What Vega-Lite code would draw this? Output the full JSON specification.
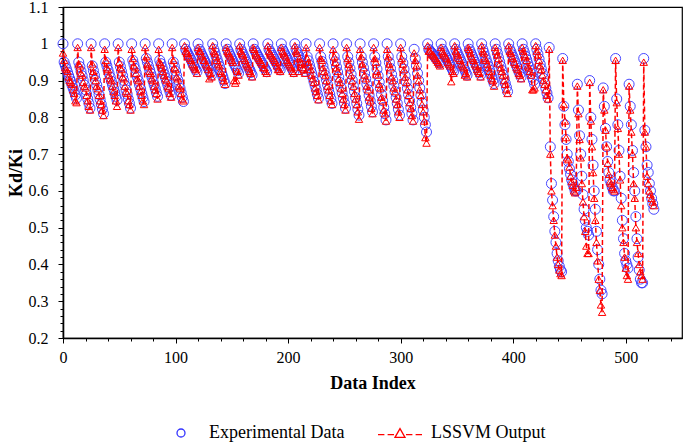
{
"$schema": "https://vega.github.io/schema/vega-lite/v6.json",
"width": 619, "height": 331,
"autosize": {"type": "none"},
"padding": {"left": 63, "top": 7, "right": 3, "bottom": 107},
"config": {"font": "Times New Roman, Liberation Serif, serif", "view": {"stroke": "black", "strokeWidth": 1.2}, "axis": {"grid": false}},
"data": {"values": [
{"i":0,"e":1,"l":0.975},{"i":1,"e":0.95,"l":0.955},{"i":2,"e":0.941,"l":0.935},{"i":3,"e":0.932,"l":0.93},{"i":4,"e":0.923,"l":0.925},{"i":5,"e":0.914,"l":0.91},{"i":6,"e":0.905,"l":0.9},{"i":7,"e":0.897,"l":0.895},{"i":8,"e":0.888,"l":0.89},{"i":9,"e":0.879,"l":0.875},{"i":10,"e":0.87,"l":0.865},{"i":11,"e":0.861,"l":0.845},{"i":12,"e":0.852,"l":0.84},
{"i":13,"e":1,"l":0.99},{"i":14,"e":0.95,"l":0.945},{"i":15,"e":0.938,"l":0.94},{"i":16,"e":0.925,"l":0.92},{"i":17,"e":0.913,"l":0.915},{"i":18,"e":0.9,"l":0.895},{"i":19,"e":0.888,"l":0.885},{"i":20,"e":0.875,"l":0.88},{"i":21,"e":0.863,"l":0.86},{"i":22,"e":0.85,"l":0.845},{"i":23,"e":0.838,"l":0.83},{"i":24,"e":0.825,"l":0.82},
{"i":25,"e":1,"l":0.99},{"i":26,"e":0.94,"l":0.945},{"i":27,"e":0.927,"l":0.925},{"i":28,"e":0.914,"l":0.915},{"i":29,"e":0.901,"l":0.9},{"i":30,"e":0.888,"l":0.885},{"i":31,"e":0.875,"l":0.878},{"i":32,"e":0.862,"l":0.86},{"i":33,"e":0.849,"l":0.845},{"i":34,"e":0.836,"l":0.835},{"i":35,"e":0.823,"l":0.82},{"i":36,"e":0.81,"l":0.805},
{"i":37,"e":1,"l":0.985},{"i":38,"e":0.95,"l":0.955},{"i":39,"e":0.94,"l":0.935},{"i":40,"e":0.929,"l":0.93},{"i":41,"e":0.919,"l":0.915},{"i":42,"e":0.909,"l":0.905},{"i":43,"e":0.898,"l":0.9},{"i":44,"e":0.888,"l":0.885},{"i":45,"e":0.878,"l":0.87},{"i":46,"e":0.868,"l":0.86},{"i":47,"e":0.857,"l":0.845},{"i":48,"e":0.847,"l":0.83},
{"i":49,"e":1,"l":0.99},{"i":50,"e":0.95,"l":0.95},{"i":51,"e":0.938,"l":0.935},{"i":52,"e":0.925,"l":0.93},{"i":53,"e":0.913,"l":0.91},{"i":54,"e":0.9,"l":0.905},{"i":55,"e":0.888,"l":0.885},{"i":56,"e":0.875,"l":0.87},{"i":57,"e":0.863,"l":0.865},{"i":58,"e":0.85,"l":0.845},{"i":59,"e":0.838,"l":0.835},{"i":60,"e":0.825,"l":0.82},
{"i":61,"e":1,"l":0.985},{"i":62,"e":0.955,"l":0.96},{"i":63,"e":0.944,"l":0.94},{"i":64,"e":0.933,"l":0.935},{"i":65,"e":0.921,"l":0.92},{"i":66,"e":0.91,"l":0.905},{"i":67,"e":0.899,"l":0.9},{"i":68,"e":0.888,"l":0.885},{"i":69,"e":0.877,"l":0.87},{"i":70,"e":0.865,"l":0.86},{"i":71,"e":0.854,"l":0.845},{"i":72,"e":0.843,"l":0.835},
{"i":73,"e":1,"l":0.99},{"i":74,"e":0.96,"l":0.965},{"i":75,"e":0.95,"l":0.945},{"i":76,"e":0.939,"l":0.94},{"i":77,"e":0.929,"l":0.925},{"i":78,"e":0.919,"l":0.92},{"i":79,"e":0.909,"l":0.905},{"i":80,"e":0.898,"l":0.9},{"i":81,"e":0.888,"l":0.885},{"i":82,"e":0.878,"l":0.875},{"i":83,"e":0.867,"l":0.865},{"i":84,"e":0.857,"l":0.85},
{"i":85,"e":1,"l":0.985},{"i":86,"e":0.955,"l":0.95},{"i":87,"e":0.946,"l":0.945},{"i":88,"e":0.936,"l":0.935},{"i":89,"e":0.927,"l":0.925},{"i":90,"e":0.917,"l":0.915},{"i":91,"e":0.908,"l":0.905},{"i":92,"e":0.898,"l":0.9},{"i":93,"e":0.889,"l":0.885},{"i":94,"e":0.879,"l":0.88},{"i":95,"e":0.87,"l":0.865},{"i":96,"e":0.86,"l":0.855},
{"i":97,"e":1,"l":0.99},{"i":98,"e":0.95,"l":0.955},{"i":99,"e":0.938,"l":0.935},{"i":100,"e":0.926,"l":0.93},{"i":101,"e":0.914,"l":0.91},{"i":102,"e":0.902,"l":0.905},{"i":103,"e":0.891,"l":0.885},{"i":104,"e":0.879,"l":0.88},{"i":105,"e":0.867,"l":0.865},{"i":106,"e":0.855,"l":0.85},{"i":107,"e":0.843,"l":0.845},
{"i":108,"e":1,"l":0.995},{"i":109,"e":0.985,"l":0.98},{"i":110,"e":0.979,"l":0.975},{"i":111,"e":0.973,"l":0.975},{"i":112,"e":0.967,"l":0.965},{"i":113,"e":0.961,"l":0.96},{"i":114,"e":0.955,"l":0.955},{"i":115,"e":0.948,"l":0.945},{"i":116,"e":0.942,"l":0.94},{"i":117,"e":0.936,"l":0.935},{"i":118,"e":0.93,"l":0.93},{"i":119,"e":0.924,"l":0.92},
{"i":120,"e":1,"l":0.99},{"i":121,"e":0.985,"l":0.98},{"i":122,"e":0.979,"l":0.98},{"i":123,"e":0.972,"l":0.97},{"i":124,"e":0.966,"l":0.965},{"i":125,"e":0.96,"l":0.955},{"i":126,"e":0.953,"l":0.955},{"i":127,"e":0.947,"l":0.945},{"i":128,"e":0.94,"l":0.94},{"i":129,"e":0.934,"l":0.93},{"i":130,"e":0.928,"l":0.905},{"i":131,"e":0.921,"l":0.92},{"i":132,"e":0.915,"l":0.91},
{"i":133,"e":1,"l":0.995},{"i":134,"e":0.985,"l":0.98},{"i":135,"e":0.976,"l":0.975},{"i":136,"e":0.966,"l":0.965},{"i":137,"e":0.957,"l":0.955},{"i":138,"e":0.948,"l":0.945},{"i":139,"e":0.939,"l":0.94},{"i":140,"e":0.929,"l":0.925},{"i":141,"e":0.92,"l":0.92},{"i":142,"e":0.911,"l":0.91},{"i":143,"e":0.901,"l":0.9},{"i":144,"e":0.892,"l":0.89},
{"i":145,"e":1,"l":0.99},{"i":146,"e":0.985,"l":0.98},{"i":147,"e":0.979,"l":0.975},{"i":148,"e":0.972,"l":0.97},{"i":149,"e":0.966,"l":0.965},{"i":150,"e":0.959,"l":0.955},{"i":151,"e":0.953,"l":0.95},{"i":152,"e":0.946,"l":0.9},{"i":153,"e":0.94,"l":0.893},{"i":154,"e":0.933,"l":0.9},{"i":155,"e":0.927,"l":0.925},{"i":156,"e":0.92,"l":0.915},
{"i":157,"e":1,"l":0.995},{"i":158,"e":0.985,"l":0.98},{"i":159,"e":0.978,"l":0.975},{"i":160,"e":0.971,"l":0.97},{"i":161,"e":0.964,"l":0.96},{"i":162,"e":0.957,"l":0.955},{"i":163,"e":0.95,"l":0.945},{"i":164,"e":0.943,"l":0.94},{"i":165,"e":0.936,"l":0.935},{"i":166,"e":0.929,"l":0.925},{"i":167,"e":0.922,"l":0.92},{"i":168,"e":0.915,"l":0.91},
{"i":169,"e":1,"l":0.99},{"i":170,"e":0.985,"l":0.985},{"i":171,"e":0.979,"l":0.975},{"i":172,"e":0.974,"l":0.97},{"i":173,"e":0.968,"l":0.965},{"i":174,"e":0.963,"l":0.96},{"i":175,"e":0.957,"l":0.955},{"i":176,"e":0.952,"l":0.95},{"i":177,"e":0.946,"l":0.945},{"i":178,"e":0.941,"l":0.935},{"i":179,"e":0.935,"l":0.935},{"i":180,"e":0.93,"l":0.925},{"i":181,"e":0.924,"l":0.92},
{"i":182,"e":1,"l":0.995},{"i":183,"e":0.985,"l":0.98},{"i":184,"e":0.979,"l":0.975},{"i":185,"e":0.974,"l":0.97},{"i":186,"e":0.968,"l":0.965},{"i":187,"e":0.963,"l":0.96},{"i":188,"e":0.957,"l":0.955},{"i":189,"e":0.951,"l":0.95},{"i":190,"e":0.946,"l":0.94},{"i":191,"e":0.94,"l":0.93},{"i":192,"e":0.935,"l":0.93},{"i":193,"e":0.929,"l":0.925},
{"i":194,"e":1,"l":0.99},{"i":195,"e":0.985,"l":0.98},{"i":196,"e":0.979,"l":0.975},{"i":197,"e":0.973,"l":0.97},{"i":198,"e":0.967,"l":0.965},{"i":199,"e":0.961,"l":0.955},{"i":200,"e":0.955,"l":0.95},{"i":201,"e":0.948,"l":0.945},{"i":202,"e":0.942,"l":0.94},{"i":203,"e":0.936,"l":0.935},{"i":204,"e":0.93,"l":0.925},{"i":205,"e":0.924,"l":0.92},
{"i":206,"e":1,"l":0.995},{"i":207,"e":0.985,"l":0.98},{"i":208,"e":0.978,"l":0.975},{"i":209,"e":0.97,"l":0.925},{"i":210,"e":0.963,"l":0.96},{"i":211,"e":0.955,"l":0.95},{"i":212,"e":0.948,"l":0.945},{"i":213,"e":0.94,"l":0.935},{"i":214,"e":0.933,"l":0.93},{"i":215,"e":0.925,"l":0.92},
{"i":216,"e":1,"l":0.99},{"i":217,"e":0.965,"l":0.96},{"i":218,"e":0.954,"l":0.95},{"i":219,"e":0.942,"l":0.94},{"i":220,"e":0.931,"l":0.93},{"i":221,"e":0.92,"l":0.915},{"i":222,"e":0.909,"l":0.905},{"i":223,"e":0.897,"l":0.895},{"i":224,"e":0.886,"l":0.88},{"i":225,"e":0.875,"l":0.87},{"i":226,"e":0.863,"l":0.86},{"i":227,"e":0.852,"l":0.848},
{"i":228,"e":1,"l":0.99},{"i":229,"e":0.965,"l":0.96},{"i":230,"e":0.952,"l":0.955},{"i":231,"e":0.94,"l":0.935},{"i":232,"e":0.927,"l":0.925},{"i":233,"e":0.914,"l":0.915},{"i":234,"e":0.902,"l":0.9},{"i":235,"e":0.889,"l":0.885},{"i":236,"e":0.876,"l":0.875},{"i":237,"e":0.863,"l":0.86},{"i":238,"e":0.851,"l":0.845},{"i":239,"e":0.838,"l":0.835},
{"i":240,"e":1,"l":0.985},{"i":241,"e":0.965,"l":0.965},{"i":242,"e":0.951,"l":0.95},{"i":243,"e":0.937,"l":0.935},{"i":244,"e":0.923,"l":0.925},{"i":245,"e":0.909,"l":0.905},{"i":246,"e":0.895,"l":0.895},{"i":247,"e":0.881,"l":0.88},{"i":248,"e":0.867,"l":0.865},{"i":249,"e":0.853,"l":0.85},{"i":250,"e":0.839,"l":0.835},{"i":251,"e":0.825,"l":0.82},
{"i":252,"e":1,"l":0.99},{"i":253,"e":0.965,"l":0.96},{"i":254,"e":0.949,"l":0.945},{"i":255,"e":0.933,"l":0.935},{"i":256,"e":0.917,"l":0.915},{"i":257,"e":0.901,"l":0.9},{"i":258,"e":0.886,"l":0.885},{"i":259,"e":0.87,"l":0.865},{"i":260,"e":0.854,"l":0.85},{"i":261,"e":0.838,"l":0.835},{"i":262,"e":0.822,"l":0.815},{"i":263,"e":0.806,"l":0.795},
{"i":264,"e":1,"l":0.985},{"i":265,"e":0.965,"l":0.965},{"i":266,"e":0.95,"l":0.945},{"i":267,"e":0.935,"l":0.935},{"i":268,"e":0.92,"l":0.915},{"i":269,"e":0.905,"l":0.905},{"i":270,"e":0.89,"l":0.885},{"i":271,"e":0.875,"l":0.875},{"i":272,"e":0.86,"l":0.855},{"i":273,"e":0.845,"l":0.845},{"i":274,"e":0.83,"l":0.825},{"i":275,"e":0.815,"l":0.81},
{"i":276,"e":1,"l":0.99},{"i":277,"e":0.965,"l":0.96},{"i":278,"e":0.948,"l":0.95},{"i":279,"e":0.931,"l":0.925},{"i":280,"e":0.913,"l":0.915},{"i":281,"e":0.896,"l":0.89},{"i":282,"e":0.879,"l":0.88},{"i":283,"e":0.862,"l":0.855},{"i":284,"e":0.845,"l":0.845},{"i":285,"e":0.827,"l":0.82},{"i":286,"e":0.81,"l":0.81},{"i":287,"e":0.793,"l":0.79},
{"i":288,"e":1,"l":0.985},{"i":289,"e":0.965,"l":0.965},{"i":290,"e":0.949,"l":0.945},{"i":291,"e":0.933,"l":0.935},{"i":292,"e":0.917,"l":0.91},{"i":293,"e":0.901,"l":0.9},{"i":294,"e":0.886,"l":0.88},{"i":295,"e":0.87,"l":0.87},{"i":296,"e":0.854,"l":0.85},{"i":297,"e":0.838,"l":0.835},{"i":298,"e":0.822,"l":0.815},{"i":299,"e":0.806,"l":0.8},
{"i":300,"e":1,"l":0.99},{"i":301,"e":0.965,"l":0.96},{"i":302,"e":0.948,"l":0.945},{"i":303,"e":0.931,"l":0.93},{"i":304,"e":0.913,"l":0.91},{"i":305,"e":0.896,"l":0.895},{"i":306,"e":0.879,"l":0.875},{"i":307,"e":0.862,"l":0.86},{"i":308,"e":0.845,"l":0.84},{"i":309,"e":0.827,"l":0.825},{"i":310,"e":0.81,"l":0.805},{"i":311,"e":0.793,"l":0.79},
{"i":312,"e":0.985,"l":0.975},{"i":313,"e":0.96,"l":0.955},{"i":314,"e":0.94,"l":0.94},{"i":315,"e":0.92,"l":0.915},{"i":316,"e":0.9,"l":0.9},{"i":317,"e":0.88,"l":0.875},{"i":318,"e":0.86,"l":0.86},{"i":319,"e":0.84,"l":0.835},{"i":320,"e":0.82,"l":0.815},{"i":321,"e":0.8,"l":0.79},{"i":322,"e":0.78,"l":0.745},{"i":323,"e":0.76,"l":0.73},
{"i":324,"e":1,"l":0.995},{"i":325,"e":0.985,"l":0.98},{"i":326,"e":0.981,"l":0.98},{"i":327,"e":0.977,"l":0.975},{"i":328,"e":0.974,"l":0.97},{"i":329,"e":0.97,"l":0.97},{"i":330,"e":0.966,"l":0.965},{"i":331,"e":0.962,"l":0.96},{"i":332,"e":0.958,"l":0.955},{"i":333,"e":0.955,"l":0.95},{"i":334,"e":0.951,"l":0.945},{"i":335,"e":0.947,"l":0.94},
{"i":336,"e":1,"l":0.99},{"i":337,"e":0.985,"l":0.98},{"i":338,"e":0.979,"l":0.975},{"i":339,"e":0.973,"l":0.97},{"i":340,"e":0.967,"l":0.965},{"i":341,"e":0.961,"l":0.96},{"i":342,"e":0.955,"l":0.95},{"i":343,"e":0.948,"l":0.945},{"i":344,"e":0.942,"l":0.94},{"i":345,"e":0.936,"l":0.897},{"i":346,"e":0.93,"l":0.925},{"i":347,"e":0.924,"l":0.92},
{"i":348,"e":1,"l":0.995},{"i":349,"e":0.985,"l":0.98},{"i":350,"e":0.978,"l":0.975},{"i":351,"e":0.971,"l":0.97},{"i":352,"e":0.964,"l":0.96},{"i":353,"e":0.957,"l":0.955},{"i":354,"e":0.95,"l":0.945},{"i":355,"e":0.943,"l":0.94},{"i":356,"e":0.936,"l":0.935},{"i":357,"e":0.929,"l":0.915},{"i":358,"e":0.922,"l":0.92},{"i":359,"e":0.915,"l":0.91},
{"i":360,"e":1,"l":0.99},{"i":361,"e":0.985,"l":0.985},{"i":362,"e":0.978,"l":0.975},{"i":363,"e":0.971,"l":0.965},{"i":364,"e":0.964,"l":0.96},{"i":365,"e":0.957,"l":0.955},{"i":366,"e":0.95,"l":0.945},{"i":367,"e":0.943,"l":0.94},{"i":368,"e":0.936,"l":0.93},{"i":369,"e":0.929,"l":0.925},{"i":370,"e":0.922,"l":0.92},{"i":371,"e":0.915,"l":0.91},
{"i":372,"e":1,"l":0.995},{"i":373,"e":0.985,"l":0.98},{"i":374,"e":0.976,"l":0.975},{"i":375,"e":0.966,"l":0.96},{"i":376,"e":0.957,"l":0.955},{"i":377,"e":0.948,"l":0.945},{"i":378,"e":0.939,"l":0.935},{"i":379,"e":0.929,"l":0.925},{"i":380,"e":0.92,"l":0.915},{"i":381,"e":0.911,"l":0.905},{"i":382,"e":0.901,"l":0.9},{"i":383,"e":0.892,"l":0.885},
{"i":384,"e":1,"l":0.99},{"i":385,"e":0.985,"l":0.98},{"i":386,"e":0.974,"l":0.97},{"i":387,"e":0.962,"l":0.96},{"i":388,"e":0.951,"l":0.945},{"i":389,"e":0.939,"l":0.935},{"i":390,"e":0.928,"l":0.925},{"i":391,"e":0.916,"l":0.915},{"i":392,"e":0.905,"l":0.9},{"i":393,"e":0.893,"l":0.89},{"i":394,"e":0.882,"l":0.875},{"i":395,"e":0.87,"l":0.865},
{"i":396,"e":1,"l":0.995},{"i":397,"e":0.985,"l":0.98},{"i":398,"e":0.978,"l":0.975},{"i":399,"e":0.97,"l":0.965},{"i":400,"e":0.963,"l":0.96},{"i":401,"e":0.955,"l":0.95},{"i":402,"e":0.948,"l":0.945},{"i":403,"e":0.94,"l":0.935},{"i":404,"e":0.933,"l":0.93},{"i":405,"e":0.925,"l":0.92},{"i":406,"e":0.918,"l":0.915},{"i":407,"e":0.91,"l":0.905},
{"i":408,"e":1,"l":0.99},{"i":409,"e":0.985,"l":0.98},{"i":410,"e":0.976,"l":0.97},{"i":411,"e":0.966,"l":0.965},{"i":412,"e":0.957,"l":0.955},{"i":413,"e":0.947,"l":0.94},{"i":414,"e":0.938,"l":0.935},{"i":415,"e":0.928,"l":0.925},{"i":416,"e":0.919,"l":0.915},{"i":417,"e":0.909,"l":0.875},{"i":418,"e":0.9,"l":0.875},{"i":419,"e":0.89,"l":0.88},
{"i":420,"e":1,"l":0.995},{"i":421,"e":0.985,"l":0.98},{"i":422,"e":0.972,"l":0.97},{"i":423,"e":0.959,"l":0.955},{"i":424,"e":0.945,"l":0.94},{"i":425,"e":0.932,"l":0.93},{"i":426,"e":0.919,"l":0.915},{"i":427,"e":0.906,"l":0.9},{"i":428,"e":0.893,"l":0.89},{"i":429,"e":0.879,"l":0.875},{"i":430,"e":0.866,"l":0.86},{"i":431,"e":0.853,"l":0.85},
{"i":432,"e":0.99,"l":0.985},{"i":433,"e":0.72,"l":0.7},{"i":434,"e":0.62,"l":0.6},{"i":435,"e":0.575,"l":0.56},{"i":436,"e":0.53,"l":0.52},{"i":437,"e":0.49,"l":0.48},{"i":438,"e":0.46,"l":0.45},{"i":439,"e":0.43,"l":0.42},{"i":440,"e":0.41,"l":0.4},{"i":441,"e":0.395,"l":0.385},{"i":442,"e":0.385,"l":0.375},{"i":443,"e":0.38,"l":0.37},
{"i":444,"e":0.96,"l":0.955},{"i":445,"e":0.83,"l":0.835},{"i":446,"e":0.78,"l":0.79},{"i":447,"e":0.74,"l":0.745},{"i":448,"e":0.7,"l":0.69},{"i":449,"e":0.68,"l":0.685},{"i":450,"e":0.66,"l":0.665},{"i":451,"e":0.645,"l":0.64},{"i":452,"e":0.63,"l":0.625},{"i":453,"e":0.62,"l":0.615},{"i":454,"e":0.61,"l":0.6},{"i":455,"e":0.6,"l":0.595},{"i":456,"e":0.6,"l":0.61},
{"i":457,"e":0.89,"l":0.885},{"i":458,"e":0.82,"l":0.81},{"i":459,"e":0.75,"l":0.74},{"i":460,"e":0.7,"l":0.69},{"i":461,"e":0.64,"l":0.62},{"i":462,"e":0.59,"l":0.57},{"i":463,"e":0.55,"l":0.53},{"i":464,"e":0.52,"l":0.49},{"i":465,"e":0.5,"l":0.45},{"i":466,"e":0.49,"l":0.43},{"i":467,"e":0.48,"l":0.43},
{"i":468,"e":0.9,"l":0.895},{"i":469,"e":0.8,"l":0.79},{"i":470,"e":0.74,"l":0.72},{"i":471,"e":0.67,"l":0.65},{"i":472,"e":0.6,"l":0.58},{"i":473,"e":0.55,"l":0.52},{"i":474,"e":0.49,"l":0.46},{"i":475,"e":0.44,"l":0.41},{"i":476,"e":0.4,"l":0.36},{"i":477,"e":0.36,"l":0.33},{"i":478,"e":0.33,"l":0.29},{"i":479,"e":0.32,"l":0.27},
{"i":480,"e":0.88,"l":0.875},{"i":481,"e":0.83,"l":0.82},{"i":482,"e":0.77,"l":0.765},{"i":483,"e":0.72,"l":0.72},{"i":484,"e":0.68,"l":0.675},{"i":485,"e":0.65,"l":0.645},{"i":486,"e":0.63,"l":0.625},{"i":487,"e":0.62,"l":0.62},{"i":488,"e":0.61,"l":0.61},{"i":489,"e":0.6,"l":0.605},{"i":490,"e":0.6,"l":0.6},
{"i":491,"e":0.96,"l":0.955},{"i":492,"e":0.85,"l":0.84},{"i":493,"e":0.78,"l":0.77},{"i":494,"e":0.71,"l":0.7},{"i":495,"e":0.64,"l":0.63},{"i":496,"e":0.58,"l":0.56},{"i":497,"e":0.52,"l":0.5},{"i":498,"e":0.47,"l":0.46},{"i":499,"e":0.43,"l":0.42},{"i":500,"e":0.41,"l":0.39},{"i":501,"e":0.4,"l":0.37},{"i":502,"e":0.39,"l":0.36},
{"i":503,"e":0.89,"l":0.885},{"i":504,"e":0.83,"l":0.82},{"i":505,"e":0.78,"l":0.76},{"i":506,"e":0.71,"l":0.7},{"i":507,"e":0.65,"l":0.62},{"i":508,"e":0.6,"l":0.58},{"i":509,"e":0.53,"l":0.5},{"i":510,"e":0.47,"l":0.46},{"i":511,"e":0.42,"l":0.43},{"i":512,"e":0.385,"l":0.4},{"i":513,"e":0.36,"l":0.38},{"i":514,"e":0.35,"l":0.37},{"i":515,"e":0.35,"l":0.36},
{"i":516,"e":0.96,"l":0.95},{"i":517,"e":0.765,"l":0.76},{"i":518,"e":0.72,"l":0.72},{"i":519,"e":0.67,"l":0.64},{"i":520,"e":0.65,"l":0.62},{"i":521,"e":0.62,"l":0.6},{"i":522,"e":0.6,"l":0.59},{"i":523,"e":0.58,"l":0.58},{"i":524,"e":0.565,"l":0.57},{"i":525,"e":0.55,"l":0.56}
]},
"transform": [{"fold": ["e", "l"], "as": ["series", "value"]}],
"encoding": {
  "x": {"field": "i", "type": "quantitative", "title": "Data Index",
    "scale": {"domain": [0, 550], "nice": false, "zero": false},
    "axis": {"values": [0,20,40,60,80,100,120,140,160,180,200,220,240,260,280,300,320,340,360,380,400,420,440,460,480,500,520,540],
      "labelExpr": "datum.value % 100 === 0 ? datum.label : ''",
      "tickSize": {"condition": {"test": "datum.value % 100 === 0", "value": 5}, "value": 3},
      "labelFlush": false, "labelOverlap": false, "labelPadding": 6,
      "domainColor": "black", "domainWidth": 1.6, "tickColor": "black", "tickWidth": 1,
      "labelColor": "black", "labelFontSize": 16,
      "titleColor": "black", "titleFontSize": 18, "titleFontWeight": "bold", "titlePadding": 9}},
  "y": {"field": "value", "type": "quantitative", "title": "Kd/Ki",
    "scale": {"domain": [0.2, 1.1], "nice": false, "zero": false},
    "axis": {"values": [0.2,0.22,0.24,0.26,0.28,0.3,0.32,0.34,0.36,0.38,0.4,0.42,0.44,0.46,0.48,0.5,0.52,0.54,0.56,0.58,0.6,0.62,0.64,0.66,0.68,0.7,0.72,0.74,0.76,0.78,0.8,0.82,0.84,0.86,0.88,0.9,0.92,0.94,0.96,0.98,1,1.02,1.04,1.06,1.08,1.1],
      "labelExpr": "abs(datum.value*10-round(datum.value*10))<0.001 ? format(datum.value, '.1~f') : ''",
      "tickSize": {"condition": {"test": "abs(datum.value*10-round(datum.value*10))<0.001", "value": 5}, "value": 3},
      "labelFlush": false, "labelOverlap": false, "labelPadding": 10,
      "domainColor": "black", "domainWidth": 1.6, "tickColor": "black", "tickWidth": 1,
      "labelColor": "black", "labelFontSize": 16,
      "titleColor": "black", "titleFontSize": 18, "titleFontWeight": "bold", "titlePadding": 3}},
  "stroke": {"field": "series", "type": "nominal",
    "scale": {"domain": ["e", "l"], "range": ["#3434ff", "#ff0000"]},
    "legend": {"orient": "none", "legendX": 109, "legendY": 417, "direction": "horizontal", "title": null,
      "labelExpr": "datum.value === 'e' ? 'Experimental Data' : 'LSSVM Output'",
      "padding": 0, "symbolSize": 64, "labelOffset": 19, "columnPadding": 30,
      "labelFontSize": 18, "labelColor": "black",
      "encode": {"symbols": {"update": {
        "shape": {"signal": "datum.value === 'l' ? 'M-6.25,0.4H-4.65M-3.85,0.4H-2.25M0.75,0.4H2.35M3.15,0.4H4.75M-2.0,1.1L-0.75,-1.1L0.5,1.1Z' : 'circle'"},
        "fill": {"value": "transparent"}, "strokeDash": {"value": []}, "strokeWidth": {"value": 1.3}, "opacity": {"value": 1}}}}}}
},
"layer": [
  {"transform": [{"filter": "datum.series === 'e'"}],
   "mark": {"type": "point", "shape": "circle", "filled": false, "size": 100, "strokeWidth": 1, "opacity": 0.9}},
  {"transform": [{"filter": "datum.series === 'l'"}],
   "mark": {"type": "line", "strokeDash": [5, 3], "strokeWidth": 1.5}},
  {"transform": [{"filter": "datum.series === 'l'"}],
   "mark": {"type": "point", "shape": "triangle-up", "filled": false, "size": 55, "strokeWidth": 1, "opacity": 1}}
]
}
